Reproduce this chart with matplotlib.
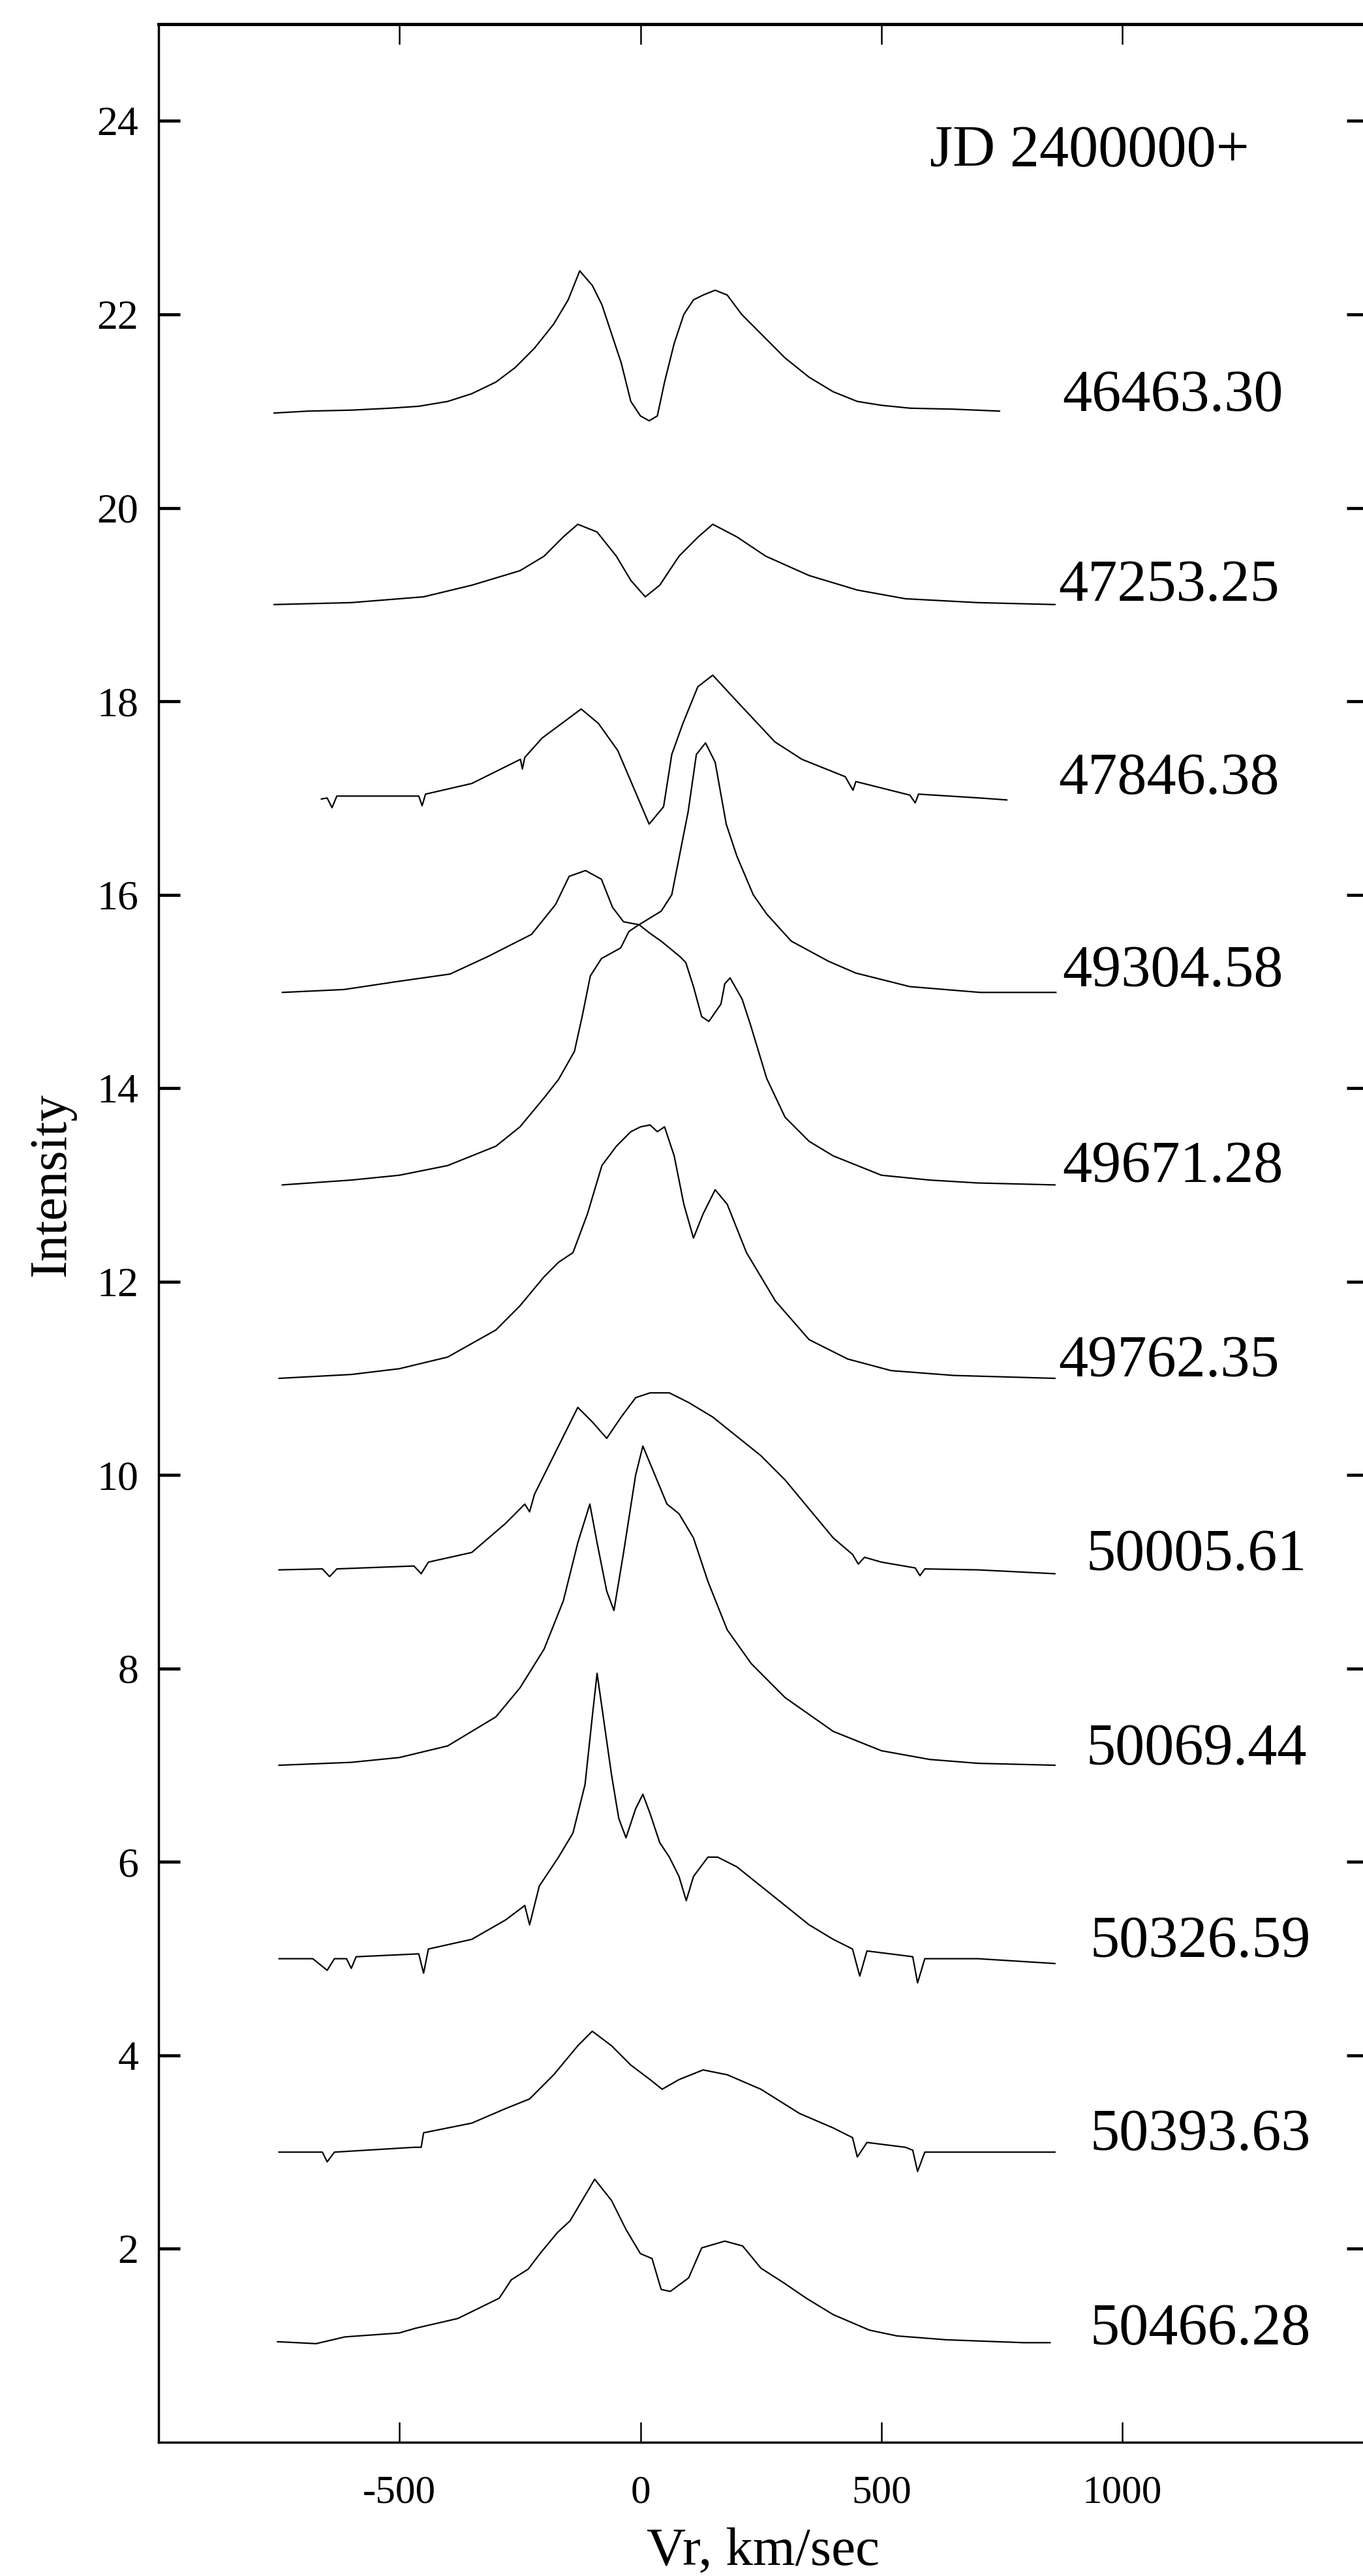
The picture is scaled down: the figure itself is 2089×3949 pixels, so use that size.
import matplotlib.pyplot as plt

# spectra: radial velocity (km/s) vs intensity, offset by 2 each
labels = ["46463.30", "47253.25", "47846.38", "49304.58", "49671.28", "49762.35",
          "50005.61", "50069.44", "50326.59", "50393.63", "50466.28"]
label_x = [875, 868, 868, 875, 875, 868, 925, 925, 933, 933, 933]
label_y = [21.15, 19.19, 17.19, 15.20, 13.18, 11.17, 9.17, 7.16, 5.17, 3.17, 1.16]

v_46463 = [-760, -690, -600, -520, -460, -400, -350, -300, -260, -220, -180, -150, -126, -100, -80,
           -60, -40, -20, 0, 18, 35, 50, 70, 90, 110, 130, 155, 180, 210, 250, 300, 350, 400, 450,
           500, 560, 650, 745]
i_46463 = [20.98, 21.0, 21.01, 21.03, 21.05, 21.1, 21.18, 21.3, 21.45, 21.65, 21.9, 22.15, 22.45, 22.3,
           22.1, 21.8, 21.5, 21.1, 20.95, 20.9, 20.95, 21.3, 21.7, 22.0, 22.15, 22.2, 22.25, 22.2,
           22.0, 21.8, 21.55, 21.35, 21.2, 21.1, 21.06, 21.03, 21.02, 21.0]

v_47253 = [-760, -600, -450, -350, -250, -200, -160, -130, -90, -50, -20, 10, 40, 80, 120, 150,
           200, 260, 350, 450, 550, 700, 860]
i_47253 = [19.0, 19.02, 19.08, 19.2, 19.35, 19.5, 19.7, 19.83, 19.75, 19.5, 19.25, 19.08, 19.2,
           19.5, 19.7, 19.83, 19.7, 19.5, 19.3, 19.15, 19.06, 19.02, 19.0]

v_47846 = [-662, -650, -640, -630, -550, -460, -453, -446, -350, -249, -245, -240, -204, -123, -87,
           -47, 18, 48, 65, 88, 119, 150, 200, 279, 335, 425, 441, 447, 559, 570, 577, 705, 760]
i_47846 = [16.99, 17.0, 16.9, 17.02, 17.02, 17.02, 16.92, 17.04, 17.15, 17.4, 17.3, 17.42, 17.62,
           17.92, 17.77, 17.49, 16.73, 16.91, 17.45, 17.77, 18.15, 18.27, 18.0, 17.58, 17.4, 17.22,
           17.08, 17.17, 17.03, 16.95, 17.04, 17.0, 16.98]

v_49304 = [-743, -615, -508, -395, -317, -226, -176, -148, -114, -81, -58, -35, -3, 43, 65, 99, 116,
           135, 155, 178, 200, 234, 262, 313, 391, 447, 559, 705, 862]
i_49304 = [14.99, 15.02, 15.1, 15.18, 15.36, 15.59, 15.9, 16.19, 16.25, 16.16, 15.87, 15.72, 15.69,
           15.83, 16.0, 16.86, 17.45, 17.57, 17.37, 16.73, 16.4, 16.0, 15.8, 15.52, 15.31, 15.19,
           15.05, 14.99, 14.99]

v_49671 = [-743, -600, -500, -400, -300, -250, -200, -170, -137, -121, -104, -81, -41, -24, -3, 20,
           43, 82, 94, 110, 127, 142, 167, 175, 186, 211, 228, 262, 300, 350, 400, 450, 500, 600,
           700, 860]
i_49671 = [13.0, 13.05, 13.1, 13.2, 13.4, 13.6, 13.9, 14.09, 14.38, 14.74, 15.16, 15.34, 15.45,
           15.62, 15.69, 15.6, 15.52, 15.36, 15.3, 15.05, 14.74, 14.69, 14.87, 15.08, 15.14, 14.92,
           14.66, 14.1, 13.7, 13.45, 13.3, 13.2, 13.1, 13.05, 13.02, 13.0]

v_49762 = [-750, -600, -500, -400, -300, -250, -200, -170, -140, -110, -80, -50, -20, 0, 20, 35, 50,
           70, 90, 110, 130, 155, 180, 220, 280, 350, 430, 520, 650, 860]
i_49762 = [11.0, 11.04, 11.1, 11.22, 11.5, 11.75, 12.05, 12.2, 12.3, 12.7, 13.2, 13.4, 13.55, 13.6,
           13.62, 13.55, 13.6, 13.3, 12.8, 12.45, 12.7, 12.95, 12.8, 12.3, 11.8, 11.4, 11.2, 11.08,
           11.03, 11.0]

v_50005 = [-750, -660, -645, -630, -470, -455, -440, -350, -280, -240, -230, -220, -180, -130, -100,
           -70, -40, -10, 20, 60, 100, 150, 200, 250, 300, 350, 400, 440, 452, 465, 500, 570, 580,
           590, 700, 860]
i_50005 = [9.02, 9.03, 8.95, 9.03, 9.06, 8.98, 9.1, 9.2, 9.5, 9.7, 9.62, 9.8, 10.2, 10.7, 10.55,
           10.38, 10.6, 10.8, 10.85, 10.85, 10.75, 10.6, 10.4, 10.2, 9.95, 9.65, 9.35, 9.18, 9.08,
           9.15, 9.1, 9.04, 8.96, 9.03, 9.02, 8.98]

v_50069 = [-750, -600, -500, -400, -300, -250, -200, -160, -130, -105, -90, -70, -55, -35, -10, 5,
           30, 55, 80, 110, 140, 180, 230, 300, 400, 500, 600, 700, 860]
i_50069 = [7.0, 7.03, 7.08, 7.2, 7.5, 7.8, 8.2, 8.7, 9.3, 9.7, 9.3, 8.8, 8.6, 9.2, 10.0, 10.3, 10.0,
           9.7, 9.6, 9.35, 8.9, 8.4, 8.05, 7.7, 7.35, 7.15, 7.06, 7.02, 7.0]

v_50326 = [-750, -680, -650, -635, -610, -600, -590, -460, -450, -440, -350, -280, -240, -230, -210,
           -170, -140, -115, -100, -90, -80, -60, -45, -30, -10, 5, 20, 40, 60, 80, 95, 110, 140,
           160, 200, 250, 300, 350, 400, 440, 455, 470, 550, 565, 575, 590, 700, 860]
i_50326 = [5.0, 5.0, 4.88, 5.0, 5.0, 4.9, 5.02, 5.05, 4.85, 5.1, 5.2, 5.4, 5.55, 5.35, 5.75, 6.05,
           6.3, 6.8, 7.5, 7.95, 7.6, 6.9, 6.45, 6.25, 6.55, 6.7, 6.5, 6.2, 6.05, 5.85, 5.6, 5.85,
           6.05, 6.05, 5.95, 5.75, 5.55, 5.35, 5.2, 5.1, 4.82, 5.08, 5.03, 5.02, 4.75, 5.0, 5.0,
           4.95]

v_50393 = [-750, -660, -650, -635, -470, -455, -450, -350, -280, -230, -180, -130, -100, -60, -20,
           20, 45, 80, 130, 180, 250, 330, 400, 440, 450, 470, 550, 565, 575, 590, 700, 860]
i_50393 = [3.0, 3.0, 2.9, 3.0, 3.05, 3.05, 3.2, 3.3, 3.45, 3.55, 3.8, 4.1, 4.25, 4.1, 3.9, 3.75,
           3.65, 3.75, 3.85, 3.8, 3.65, 3.4, 3.25, 3.15, 2.95, 3.1, 3.05, 3.02, 2.8, 3.0, 3.0, 3.0]

v_50466 = [-753, -673, -613, -501, -466, -379, -293, -268, -233, -207, -172, -146, -95, -60, -30, 0,
           24, 43, 62, 100, 127, 175, 212, 250, 297, 344, 400, 475, 532, 635, 795, 850]
i_50466 = [1.04, 1.02, 1.09, 1.13, 1.18, 1.28, 1.49, 1.68, 1.79, 1.96, 2.17, 2.29, 2.72, 2.5, 2.2,
           1.95, 1.9, 1.58, 1.56, 1.7, 2.01, 2.08, 2.03, 1.8, 1.65, 1.49, 1.32, 1.16, 1.1, 1.06, 1.03,
           1.03]

spectra = [(v_46463, i_46463), (v_47253, i_47253), (v_47846, i_47846), (v_49304, i_49304),
           (v_49671, i_49671), (v_49762, i_49762), (v_50005, i_50005), (v_50069, i_50069),
           (v_50326, i_50326), (v_50393, i_50393), (v_50466, i_50466)]

plt.rcParams['font.family'] = ['Liberation Serif', 'DejaVu Serif']
plt.rcParams['axes.unicode_minus'] = False

fig = plt.figure(figsize=(20.89, 39.49), dpi=100)
ax = fig.add_axes([0.1163, 0.0519, 0.8875, 0.9387])

for v, inten in spectra:
    ax.plot(v, inten, color='black', lw=1.6)

for lab, lx, ly in zip(labels, label_x, label_y):
    ax.text(lx, ly, lab, fontsize=65, va='center', ha='left')

ax.text(600, 23.68, "JD 2400000+", fontsize=65, va='center', ha='left')

ax.set_xlim(-1000, 1510)
ax.set_ylim(0, 25)
ax.set_xticks([-500, 0, 500, 1000])
ax.set_yticks(range(2, 25, 2))
ax.tick_params(axis='x', direction='in', top=True, length=22, width=1.8, labelsize=44, pad=36)
ax.tick_params(axis='y', direction='in', right=True, length=24, width=3.4, labelsize=46, pad=22)
for s in ['left', 'bottom', 'right']:
    ax.spines[s].set_linewidth(2.5)
ax.spines['top'].set_linewidth(3.6)

ax.set_xlabel("Vr, km/sec", fontsize=60)
ax.xaxis.set_label_coords(0.5, -0.035)
ax.set_ylabel("Intensity", fontsize=58)
ax.yaxis.set_label_coords(-0.0685, 0.52)

fig.savefig("out.png", dpi=100)
